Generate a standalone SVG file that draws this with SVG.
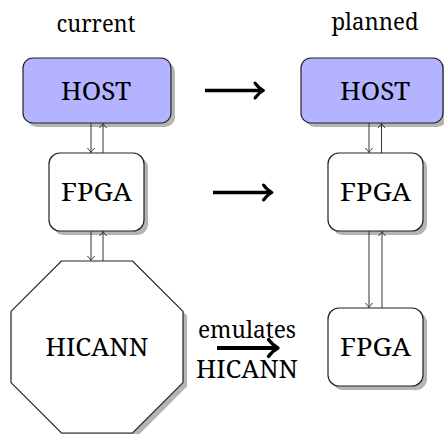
<svg xmlns="http://www.w3.org/2000/svg" width="444" height="434" viewBox="0 0 444 434">
  <style>
    .lbl { font-family: "Noto Serif", "Liberation Serif", serif; font-size: 25.5px; fill: #000; text-anchor: middle; }
    .low { font-size: 23px; }
    .box { stroke: #222; stroke-width: 1.2; fill: #fff; }
    .host { fill: #b3b3ff; }
    .shadow { fill: #b4b4b4; stroke: none; }
    .link { stroke: #333; stroke-width: 1; fill: none; marker-end: url(#tip); }
    .big { stroke: #000; stroke-width: 3.4; fill: none; stroke-linecap: butt; }
    .bighead { stroke: #000; stroke-width: 3; fill: none; stroke-linecap: round; stroke-linejoin: round; }
  </style>
  <defs>
    <!-- small open arrow tip for the link lines -->
    <marker id="tip" markerUnits="userSpaceOnUse" markerWidth="12" markerHeight="12" viewBox="-8 -6 10 12" refX="0" refY="0" orient="auto">
      <path d="M -4.5 -3.6 Q -1.6 -0.9 0 0 Q -1.6 0.9 -4.5 3.6" stroke="#333" stroke-width="1" fill="none"/>
    </marker>
  </defs>

  <!-- column headings -->
  <text class="lbl low" x="96" y="31.5" textLength="79" lengthAdjust="spacingAndGlyphs">current</text>
  <text class="lbl low" x="375" y="29.5" textLength="87" lengthAdjust="spacingAndGlyphs">planned</text>

  <!-- left column -->
  <g id="host-current">
    <rect class="shadow" x="27" y="62" width="148" height="65" rx="10"/>
    <rect class="box host" x="23" y="58" width="148" height="65" rx="10"/>
    <text class="lbl" x="96" y="100" textLength="70" lengthAdjust="spacingAndGlyphs">HOST</text>
  </g>
  <g id="fpga-current">
    <rect class="shadow" x="53" y="157" width="95" height="78" rx="11"/>
    <rect class="box" x="49" y="153" width="95" height="78" rx="11"/>
    <text class="lbl" x="96.5" y="201" textLength="71" lengthAdjust="spacingAndGlyphs">FPGA</text>
  </g>
  <g id="hicann">
    <polygon class="shadow" points="65.4,265 136.6,265 187,315.4 187,386.6 136.6,437 65.4,437 15,386.6 15,315.4"/>
    <polygon class="box" points="61.4,261 132.6,261 183,311.4 183,382.6 132.6,433 61.4,433 11,382.6 11,311.4"/>
    <text class="lbl" x="97" y="356" textLength="103" lengthAdjust="spacingAndGlyphs">HICANN</text>
  </g>

  <!-- right column -->
  <g id="host-planned">
    <rect class="shadow" x="305" y="62" width="142" height="65" rx="10"/>
    <rect class="box host" x="301" y="58" width="142" height="65" rx="10"/>
    <text class="lbl" x="375" y="100" textLength="70" lengthAdjust="spacingAndGlyphs">HOST</text>
  </g>
  <g id="fpga-planned">
    <rect class="shadow" x="332" y="157" width="95" height="78" rx="11"/>
    <rect class="box" x="328" y="153" width="95" height="78" rx="11"/>
    <text class="lbl" x="375.5" y="201" textLength="71" lengthAdjust="spacingAndGlyphs">FPGA</text>
  </g>
  <g id="fpga-emulator">
    <rect class="shadow" x="332" y="312" width="95" height="78" rx="11"/>
    <rect class="box" x="328" y="308" width="95" height="78" rx="11"/>
    <text class="lbl" x="375.5" y="356" textLength="71" lengthAdjust="spacingAndGlyphs">FPGA</text>
  </g>

  <!-- transition arrows between the columns -->
  <g id="transition-host">
    <line class="big" x1="205" y1="90.5" x2="262" y2="90.5"/>
    <path class="bighead" d="M 255 83 Q 259 88.5 263.5 90.5 Q 259 92.5 255 98"/>
  </g>
  <g id="transition-fpga">
    <line class="big" x1="213" y1="192.5" x2="270.5" y2="192.5"/>
    <path class="bighead" d="M 263.5 185 Q 267.5 190.5 272 192.5 Q 267.5 194.5 263.5 200"/>
  </g>
  <g id="transition-hicann">
    <text class="lbl low" x="247" y="338" textLength="98" lengthAdjust="spacingAndGlyphs">emulates</text>
    <text class="lbl" x="247" y="377.5" textLength="102" lengthAdjust="spacingAndGlyphs">HICANN</text>
    <line class="big" x1="217" y1="348" x2="276.5" y2="348" style="stroke-width:4"/>
    <path class="bighead" d="M 268.5 339.5 Q 273 345.5 278 348 Q 273 350.5 268.5 356.5" style="stroke-width:3.4"/>
  </g>

  <!-- link lines between stacked nodes -->
  <g id="connectors">
    <line class="link" x1="91" y1="123" x2="91" y2="152.5"/>
    <line class="link" x1="103" y1="153" x2="103" y2="123.5"/>
    <line class="link" x1="91" y1="231" x2="91" y2="260.5"/>
    <line class="link" x1="103" y1="261" x2="103" y2="231.5"/>
    <line class="link" x1="369" y1="123" x2="369" y2="152.5"/>
    <line class="link" x1="381.5" y1="153" x2="381.5" y2="123.5"/>
    <line class="link" x1="369" y1="231" x2="369" y2="307.5"/>
    <line class="link" x1="382" y1="308" x2="382" y2="231.5"/>
  </g>
</svg>
